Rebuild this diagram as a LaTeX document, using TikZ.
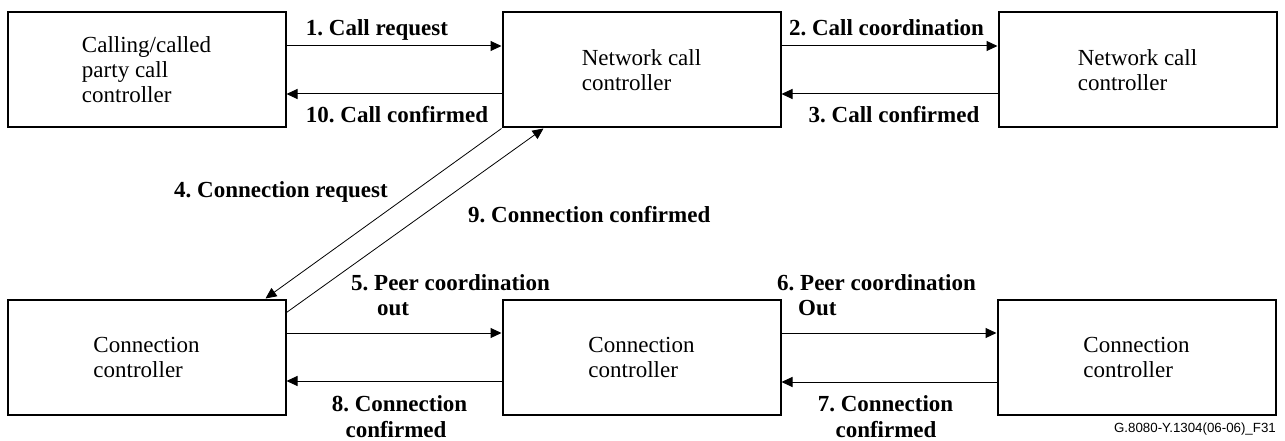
\documentclass[tikz,border=0pt]{standalone}
\usepackage{fontspec}
\setmainfont{Liberation Serif}
\newfontfamily\footfont{Liberation Sans}
\usetikzlibrary{arrows.meta}
\frenchspacing
\tikzset{
  ctrlbox/.style={draw, line width=2pt, minimum width=278pt, minimum height=115pt, inner sep=0pt, align=left,
    font=\fontsize{23}{25}\selectfont},
  arr/.style={line width=1pt, -{Triangle[length=11pt,width=10pt]}},
  diag/.style={line width=0.8pt, -{Triangle[length=11pt,width=10pt]}},
  lbl/.style={inner sep=0pt, font=\fontsize{23}{25}\selectfont\bfseries},
  foot/.style={inner sep=0pt, font=\fontsize{13.3}{15}\footfont}
}
\begin{document}
\begin{tikzpicture}[x=1pt,y=-1pt]
\useasboundingbox (0,0) rectangle (1285,441);
% boxes
\node[ctrlbox] (c1) at (146.5,70) {Calling/called\\party call\\controller};
\node[ctrlbox] (c2) at (641.5,70) {Network call\\controller};
\node[ctrlbox] (c3) at (1137.5,70) {Network call\\controller};
\node[ctrlbox] (b1) at (146.5,357) {Connection\\controller};
\node[ctrlbox] (b2) at (641.5,357) {Connection\\controller};
\node[ctrlbox] (b3) at (1136.5,357) {Connection\\controller};
% top connectors
\draw[arr] ([yshift=24pt]c1.east) -- ([yshift=24pt]c2.west);
\draw[arr] ([yshift=-24pt]c2.west) -- ([yshift=-24pt]c1.east);
\draw[arr] ([yshift=24pt]c2.east) -- ([yshift=24pt]c3.west);
\draw[arr] ([yshift=-24pt]c3.west) -- ([yshift=-24pt]c2.east);
% bottom connectors
\draw[arr] ([yshift=24pt]b1.east) -- ([yshift=24pt]b2.west);
\draw[arr] ([yshift=-24pt]b2.west) -- ([yshift=-24pt]b1.east);
\draw[arr] ([yshift=24pt]b2.east) -- ([yshift=24pt]b3.west);
\draw[arr] ([yshift=-25pt]b3.west) -- ([yshift=-25pt]b2.east);
% diagonal connectors
\draw[diag] (c2.south west) -- ([xshift=-21pt]b1.north east);
\draw[diag] ([yshift=-14pt]b1.north east) -- ([xshift=42pt]c2.south west);
% labels
\node[lbl, anchor=base] (l1) at (377,36) {1. Call request};
\node[lbl, anchor=base] (l10) at (397,123) {10. Call confirmed};
\node[lbl, anchor=base] (l2) at (886.5,36) {2. Call coordination};
\node[lbl, anchor=base] (l3) at (894,123) {3. Call confirmed};
\node[lbl, anchor=base east] (l4) at (388,197) {4. Connection request};
\node[lbl, anchor=base west] (l9) at (468,222) {9. Connection confirmed};
\node[lbl, anchor=base west] (l5a) at (351,290) {5. Peer coordination};
\node[lbl, anchor=base west] (l5b) at (377,315) {out};
\node[lbl, anchor=base west] (l6a) at (777,290) {6. Peer coordination};
\node[lbl, anchor=base west] (l6b) at (798,315) {Out};
\node[lbl, anchor=base] (l8a) at (399.5,411) {8. Connection};
\node[lbl, anchor=base] (l8b) at (396,437) {confirmed};
\node[lbl, anchor=base] (l7a) at (885.5,411) {7. Connection};
\node[lbl, anchor=base] (l7b) at (886,437) {confirmed};
\node[foot, anchor=base east] (fn) at (1276,432) {G.8080-Y.1304(06-06)\_F31};
\end{tikzpicture}
\end{document}
